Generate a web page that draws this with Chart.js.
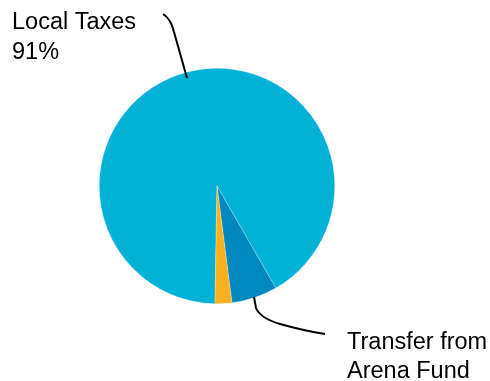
<!DOCTYPE html>
<html>
<head>
<meta charset="utf-8">
<script src="https://cdn.jsdelivr.net/npm/chart.js@4"></script>
<style>
  html, body { margin: 0; padding: 0; background: #fff; }
  #wrap { width: 490px; height: 381px; position: relative; }
</style>
</head>
<body>
<div id="wrap"><canvas id="myChart" width="490" height="381"></canvas></div>
<script>
const categorias = ['Local Taxes', 'Transfer from Arena Fund', 'Other']
const valores = [91.4, 6.3, 2.3]
const colores = ['#02B2D6', '#0089BF', '#FBB11E']

// labels with leader lines, drawn after the pie
const etiquetas = {
    id: 'etiquetas',
    afterDraw: (chart) => {
        const ctx = chart.ctx
        ctx.save()
        ctx.strokeStyle = '#000'
        ctx.lineWidth = 2
        ctx.beginPath()
        ctx.moveTo(163, 14)
        ctx.quadraticCurveTo(171, 19, 174, 32)
        ctx.lineTo(187, 78)
        ctx.stroke()

        ctx.beginPath()
        ctx.moveTo(254, 297)
        ctx.lineTo(256, 308)
        ctx.quadraticCurveTo(260, 318, 280, 324)
        ctx.quadraticCurveTo(305, 331, 325, 334)
        ctx.stroke()

        ctx.fillStyle = '#000'
        ctx.font = '23.5px "Liberation Sans", Arial, sans-serif'
        ctx.textBaseline = 'alphabetic'
        ctx.fillText(categorias[0], 12, 29)
        ctx.fillText(Math.round(valores[0]) + '%', 12, 59)
        ctx.fillText('Transfer from', 347, 349)
        ctx.fillText('Arena Fund', 347, 378)
        ctx.restore()
    }
}

var ctx = document.getElementById('myChart')
var myChart = new Chart(ctx, {
    type: 'pie',
    data: {
        labels: categorias,
        datasets: [{
            data: valores,
            backgroundColor: colores,
            borderColor: 'rgba(255,255,255,0.5)',
            borderWidth: 0.5
        }]
    },
    options: {
        responsive: false,
        animation: false,
        rotation: 181,
        layout: {
            padding: { top: 68, bottom: 77, left: 99, right: 155 }
        },
        plugins: {
            legend: { display: false },
            tooltip: { enabled: false }
        }
    },
    plugins: [etiquetas]
})
</script>
</body>
</html>
